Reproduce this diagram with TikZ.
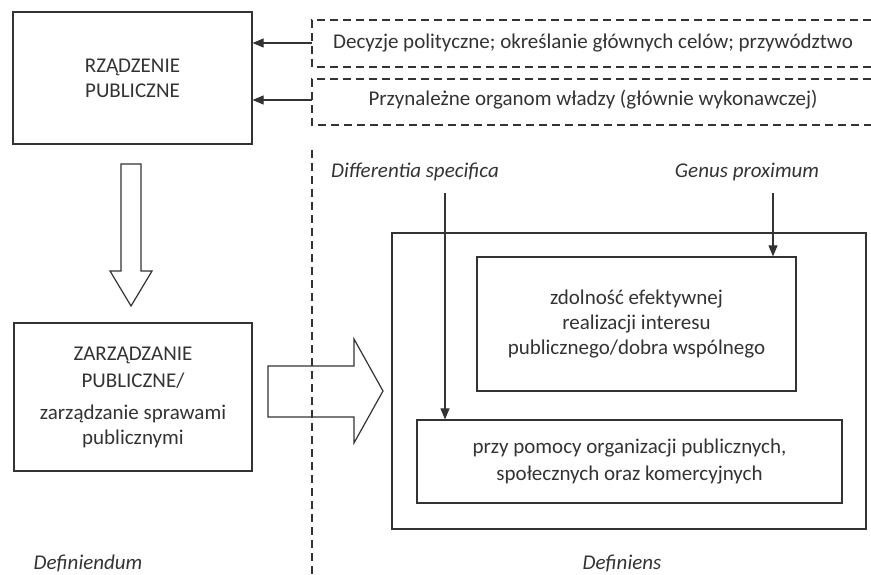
\documentclass[tikz,border=0pt]{standalone}
\usepackage{fontspec}
\setmainfont{Carlito}
\usetikzlibrary{arrows.meta}

\begin{document}
\begin{tikzpicture}[x=1pt,y=-1pt,color=black!80,line width=1.2pt,
    every node/.style={font=\fontsize{21}{25}\selectfont},
    box/.style={draw,rectangle,align=center,inner sep=0pt},
    termin/.style={font=\fontsize{21}{25}\selectfont\itshape},
    arr/.style={-{Triangle[length=11pt,width=9pt]},line width=1.1pt},
    dashline/.style={dash pattern=on 8pt off 5pt,line width=1.1pt}]
    \useasboundingbox (0,0) rectangle (871,575);

    % definiendum
    \node[box,minimum width=239pt,minimum height=132pt] (rzadzenie) at (132.5,78)
        {RZĄDZENIE\\PUBLICZNE};
    \node[box,minimum width=238pt,minimum height=148pt] (zarzadzanie) at (133,397)
        {ZARZĄDZANIE\\[2pt]PUBLICZNE/\\[7pt]zarządzanie sprawami\\publicznymi};

    \node (decyzje) at (593,43) {Decyzje polityczne; określanie głównych celów; przywództwo};
    \node (przynalezne) at (593,100) {Przynależne organom władzy (głównie wykonawczej)};
    \draw[dashline] (871,20) -| (312,67) -- (871,67);
    \draw[dashline] (871,79) -| (312,125) -- (871,125);
    \coordinate (c1) at (312,43);
    \coordinate (c2) at (312,100);
    \draw[arr] (c1) -- (c1 -| rzadzenie.east);
    \draw[arr] (c2) -- (c2 -| rzadzenie.east);

    % block arrows
    \draw (121,164) -- (141,164) -- (141,271) -- (152,271) -- (131,306)
        -- (110,271) -- (121,271) -- cycle;
    \draw (268,366) -- (354,366) -- (354,339) -- (383,391) -- (354,443)
        -- (354,417) -- (268,417) -- cycle;

    \draw[dashline] (312,150) -- (312,575);

    % definiens
    \node[box,minimum width=474pt,minimum height=296pt] (definiens box) at (629,381) {};
    \node[box,minimum width=319pt,minimum height=134pt] (zdolnosc) at (636.5,324)
        {zdolność efektywnej\\realizacji interesu\\publicznego/dobra wspólnego};
    \node[box,minimum width=425pt,minimum height=83pt] (pomoc) at (629.5,461.5)
        {przy pomocy organizacji publicznych,\\[2pt]społecznych oraz komercyjnych};

    \node[termin] (differentia) at (415,172) {Differentia specifica};
    \node[termin] (genus) at (747,172) {Genus proximum};
    \coordinate (ds) at (445,193);
    \coordinate (gp) at (773,193);
    \draw[arr] (ds) -- (ds |- pomoc.north);
    \draw[arr] (gp) -- (gp |- zdolnosc.north);

    \node[termin] (definiendum) at (88,563) {Definiendum};
    \node[termin] (definiens) at (622,563) {Definiens};
\end{tikzpicture}
\end{document}
